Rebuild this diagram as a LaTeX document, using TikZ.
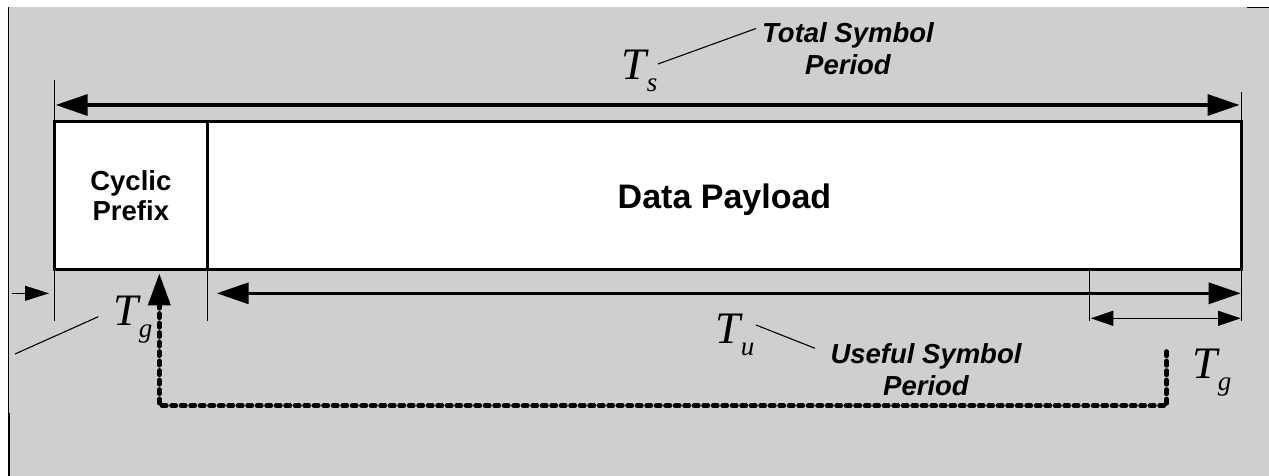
\documentclass[tikz,border=0pt]{standalone}
\usepackage{fontspec}
\setmainfont{Liberation Serif}
\setsansfont{Liberation Sans}
\usepackage{tikz}
\usetikzlibrary{arrows.meta}
\definecolor{bggray}{RGB}{207,207,207}
\newcommand{\Tsub}[1]{\textit{T}\kern-2pt\raisebox{-12pt}{\fontsize{27}{27}\selectfont\textit{#1}}}

\begin{document}
\begin{tikzpicture}[x=1pt,y=-1pt,
 blk/.style={draw,line width=3pt,fill=white,inner sep=0pt,outer sep=0pt,minimum height=147.7pt,align=center,text depth=0pt},
 lbl/.style={font=\sffamily\bfseries\itshape\fontsize{27.5}{32}\selectfont,align=center,anchor=base},
 sym/.style={font=\fontsize{45}{45}\selectfont,anchor=base west,inner sep=0pt},
 tickline/.style={line width=1pt},
 lead/.style={line width=1.1pt},
 big/.style={line width=3.3pt,{Triangle[length=32pt,width=21pt]}-{Triangle[length=32pt,width=21pt]}},
 dotline/.style={line width=5pt,line cap=round,dash pattern=on 4pt off 5.5pt}]
 \useasboundingbox (0,0) rectangle (1269,476);
 \fill[bggray] (8,7) rectangle (1269,476);
 \draw[line width=1pt] (8,7) -- (8,413);
 \draw[line width=2.5pt] (8.8,413) -- (8.8,476);
 \draw[line width=1pt] (1247,7.3) -- (1269,7.3);
 % the symbol
 \node[blk,minimum width=153.7pt,font=\sffamily\bfseries\fontsize{27.5}{30}\selectfont] (cp) at (130.85,195.85) {Cyclic\\Prefix};
 \node[blk,minimum width=1033.6pt,font=\sffamily\bfseries\fontsize{34}{36}\selectfont] (data) at (724.5,195.85) {Data Payload};
 % ticks
 \draw[tickline] (cp.north west) -- ++(0,-42)
   (data.north east) -- ++(0,-30)
   (cp.south west) -- ++(0,51)
   (cp.south east) -- ++(0,51)
   (data.south east) -- ++(0,51);
 \coordinate (gs) at (1089.3,269.7);
 \draw[tickline] (gs) -- ++(0,51);
 % arrows
 \coordinate (ts-l) at (55.7,105);
 \coordinate (ts-r) at (1239.5,105);
 \coordinate (tu-l) at (216.7,293.3);
 \coordinate (tu-r) at (1240.7,293.3);
 \coordinate (tg-l) at (1090.7,318.3);
 \coordinate (tg-r) at (1240.7,318.3);
 \coordinate (in-a) at (11.7,293.3);
 \coordinate (in-b) at (49,293.3);
 \draw[big] (ts-l) -- (ts-r);
 \draw[big] (tu-l) -- (tu-r);
 \draw[line width=1.5pt,{Triangle[length=22.7pt,width=15pt]}-{Triangle[length=22.7pt,width=15pt]}] (tg-l) -- (tg-r);
 \draw[line width=1pt,-{Triangle[length=24pt,width=15pt]}] (in-a) -- (in-b);
 \coordinate (cp-a) at (1166.7,351.7);
 \coordinate (cp-b) at (159.3,273.3);
 \draw[dotline,-{Triangle[length=32pt,width=21.7pt]}] (cp-a) -- (1166.7,405.7) -- (159.3,405.7) -- (cp-b);
 % labels
 \node[sym] (ts) at (621,80) {\Tsub{s}};
 \node[sym] (tgl) at (113,325) {\Tsub{g}};
 \node[sym] (tu) at (715,343) {\Tsub{u}};
 \node[sym] (tgr) at (1192,378) {\Tsub{g}};
 \node[lbl] (tsp) at (848,75) {Total Symbol\\Period};
 \node[lbl] (tup) at (926,395) {Useful Symbol\\Period};
 \coordinate (ts-a) at (658,64);
 \coordinate (ts-b) at (756,28.5);
 \coordinate (tu-a) at (756,325);
 \coordinate (tu-b) at (815,348.3);
 \coordinate (tg-a) at (15,354);
 \coordinate (tg-b) at (98.3,316.7);
 \draw[lead] (ts-a) -- (ts-b) (tu-a) -- (tu-b) (tg-a) -- (tg-b);
\end{tikzpicture}
\end{document}
